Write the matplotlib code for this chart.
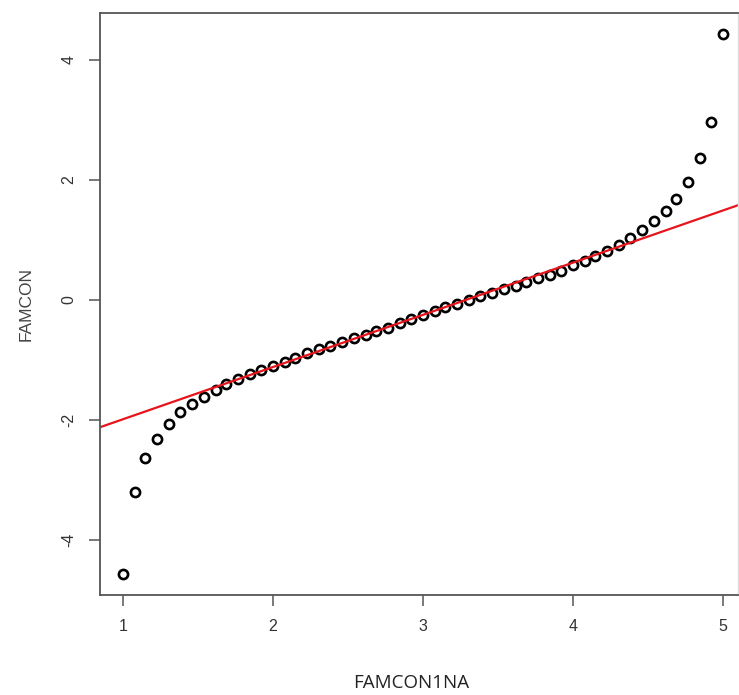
import matplotlib
matplotlib.use("Agg")
import matplotlib.pyplot as plt

# quantile pairs
famcon1na = [1.00, 1.08, 1.15, 1.23, 1.31, 1.38, 1.46, 1.54, 1.62, 1.69,
             1.77, 1.85, 1.92, 2.00, 2.08, 2.15, 2.23, 2.31, 2.38, 2.46,
             2.54, 2.62, 2.69, 2.77, 2.85, 2.92, 3.00, 3.08, 3.15, 3.23,
             3.31, 3.38, 3.46, 3.54, 3.62, 3.69, 3.77, 3.85, 3.92, 4.00,
             4.08, 4.15, 4.23, 4.31, 4.38, 4.46, 4.54, 4.62, 4.69, 4.77,
             4.85, 4.92, 5.00]
famcon = [-4.57, -3.20, -2.64, -2.31, -2.07, -1.87, -1.73, -1.62, -1.50, -1.40,
          -1.31, -1.23, -1.16, -1.10, -1.03, -0.96, -0.89, -0.82, -0.76, -0.70,
          -0.64, -0.58, -0.52, -0.46, -0.39, -0.32, -0.25, -0.18, -0.12, -0.06,
          0.00, 0.06, 0.12, 0.18, 0.24, 0.30, 0.36, 0.42, 0.49, 0.59,
          0.65, 0.73, 0.81, 0.92, 1.03, 1.16, 1.31, 1.48, 1.68, 1.96,
          2.37, 2.97, 4.43]

# reference line (qqline style): passes through (3, -0.248) with slope 0.87
line_point = (3.0, -0.248)
line_slope = 0.87

xticks = [1, 2, 3, 4, 5]
yticks = [-4, -2, 0, 2, 4]

plt.rcParams['font.family'] = ['Liberation Sans', 'DejaVu Sans']

fig = plt.figure(figsize=(7.39, 6.95), dpi=100)
ax = fig.add_axes([0.1353, 0.1439, 0.8633, 0.8374])

ax.plot(famcon1na, famcon, linestyle='none', marker='o', markersize=6.6,
        markerfacecolor='none', markeredgecolor='black', markeredgewidth=1.9)
ax.axline(line_point, slope=line_slope, color='#e8141c', linewidth=1.6)

ax.set_xlim(0.847, 5.1)
ax.set_ylim(-4.917, 4.783)
ax.set_xticks(xticks)
ax.set_yticks(yticks)
ax.set_yticklabels([str(v) for v in yticks], rotation=90, va='center')

ax.tick_params(axis='both', direction='out', length=8, width=1.1, color='#555555',
               labelsize=11.5, labelcolor='#333333', pad=9)

for side in ['left', 'bottom', 'top']:
    ax.spines[side].set_color('#555555')
    ax.spines[side].set_linewidth(1.3)
ax.spines['right'].set_color('#dddddd')
ax.spines['right'].set_linewidth(1.0)

ax.set_ylabel("FAMCON", fontsize=12.5, color='#444444', labelpad=20)
fig.text(0.557, 0.004, "FAMCON1NA", fontsize=13.5, color='#222222',
         family=['Open Sans', 'DejaVu Sans'], ha='center', va='bottom')

plt.savefig("out.png", dpi=100)
